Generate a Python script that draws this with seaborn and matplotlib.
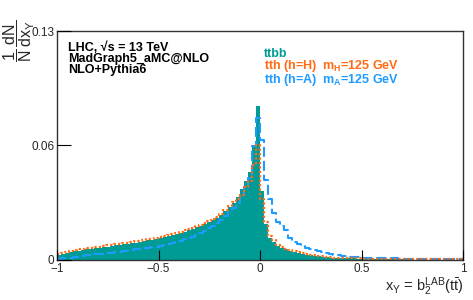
import numpy as np
import pandas as pd
import matplotlib
matplotlib.use("Agg")
import matplotlib.pyplot as plt
import seaborn as sns

# ---- data (fraction per bin, 100 bins from -1 to 1) ----
ttbb_left = [0.0025, 0.0033, 0.0038, 0.0042, 0.0046, 0.0049, 0.0052, 0.0055, 0.0058, 0.0061,
             0.0064, 0.0067, 0.0070, 0.0073, 0.0076, 0.0079, 0.0082, 0.0085, 0.0088, 0.0091,
             0.0094, 0.0098, 0.0102, 0.0106, 0.0110, 0.0114, 0.0119, 0.0124, 0.0129, 0.0135,
             0.0141, 0.0148, 0.0155, 0.0162, 0.0170, 0.0178, 0.0187, 0.0197, 0.0208, 0.0220,
             0.0235, 0.0255, 0.0278, 0.0300, 0.0330, 0.0370, 0.0410, 0.0460, 0.0600, 0.0803]
ttbb_right = [0.0360, 0.0190, 0.0115, 0.0095, 0.0075, 0.0063, 0.0055, 0.0048, 0.0042, 0.0037,
              0.0032, 0.0028, 0.0025, 0.0022, 0.0019, 0.0017, 0.0015, 0.0013, 0.0012, 0.0011,
              0.0010, 0.0009, 0.0008, 0.0008, 0.0007, 0.0006, 0.0006, 0.0005, 0.0005, 0.0005,
              0.0004, 0.0004, 0.0004, 0.0003, 0.0003, 0.0003, 0.0003, 0.0002, 0.0002, 0.0002,
              0.0002, 0.0002, 0.0002, 0.0002, 0.0002, 0.0002, 0.0002, 0.0002, 0.0002, 0.0002]

tthH_left = [0.0030, 0.0038, 0.0044, 0.0048, 0.0052, 0.0055, 0.0058, 0.0061, 0.0064, 0.0067,
             0.0070, 0.0073, 0.0076, 0.0079, 0.0082, 0.0085, 0.0088, 0.0091, 0.0094, 0.0097,
             0.0100, 0.0104, 0.0108, 0.0112, 0.0116, 0.0120, 0.0125, 0.0130, 0.0135, 0.0141,
             0.0147, 0.0154, 0.0161, 0.0168, 0.0176, 0.0184, 0.0193, 0.0203, 0.0214, 0.0226,
             0.0241, 0.0260, 0.0281, 0.0303, 0.0320, 0.0340, 0.0380, 0.0410, 0.0496, 0.0600]
tthH_right = [0.0320, 0.0200, 0.0125, 0.0104, 0.0078, 0.0066, 0.0058, 0.0051, 0.0045, 0.0040,
              0.0035, 0.0031, 0.0027, 0.0024, 0.0021, 0.0019, 0.0017, 0.0015, 0.0013, 0.0012,
              0.0011, 0.0010, 0.0009, 0.0008, 0.0008, 0.0007, 0.0007, 0.0006, 0.0006, 0.0005,
              0.0005, 0.0005, 0.0004, 0.0004, 0.0004, 0.0004, 0.0003, 0.0003, 0.0003, 0.0003,
              0.0003, 0.0003, 0.0003, 0.0003, 0.0003, 0.0003, 0.0003, 0.0003, 0.0003, 0.0003]

tthA_left = [0.0005, 0.0008, 0.0010, 0.0013, 0.0015, 0.0018, 0.0021, 0.0024, 0.0027, 0.0029,
             0.0031, 0.0033, 0.0035, 0.0037, 0.0040, 0.0043, 0.0046, 0.0049, 0.0052, 0.0055,
             0.0058, 0.0061, 0.0064, 0.0067, 0.0070, 0.0074, 0.0078, 0.0083, 0.0088, 0.0094,
             0.0100, 0.0107, 0.0114, 0.0122, 0.0131, 0.0141, 0.0152, 0.0165, 0.0180, 0.0195,
             0.0210, 0.0230, 0.0250, 0.0270, 0.0300, 0.0340, 0.0380, 0.0430, 0.0595, 0.0740]
tthA_right = [0.0626, 0.0420, 0.0320, 0.0245, 0.0200, 0.0175, 0.0157, 0.0115, 0.0096, 0.0085,
              0.0073, 0.0065, 0.0056, 0.0050, 0.0045, 0.0040, 0.0035, 0.0031, 0.0027, 0.0024,
              0.0021, 0.0019, 0.0017, 0.0015, 0.0014, 0.0013, 0.0012, 0.0011, 0.0010, 0.0010,
              0.0009, 0.0009, 0.0008, 0.0008, 0.0007, 0.0007, 0.0007, 0.0006, 0.0006, 0.0006,
              0.0006, 0.0005, 0.0005, 0.0005, 0.0005, 0.0005, 0.0005, 0.0005, 0.0005, 0.0005]

x_ticks = [-1, -0.5, 0, 0.5, 1]
x_ticklabels = ["\u22121", "\u22120.5", "0", "0.5", "1"]
y_ticks = [0, 0.06, 0.1195]
y_ticklabels = ["0", "0.06", "0.13"]
legend_labels = ["ttbb", "tth (h=H)  m$_{\\mathregular{H}}$=125 GeV",
                 "tth (h=A)  m$_{\\mathregular{A}}$=125 GeV"]
info_lines = ["LHC, \u221as = 13 TeV", "MadGraph5_aMC@NLO", "NLO+Pythia6"]

# ---- build table ----
nbins = 100
centers = -1 + (np.arange(nbins) + 0.5) * (2.0 / nbins)
df = pd.DataFrame({
    "x": centers,
    "ttbb": ttbb_left + ttbb_right,
    "tthH": tthH_left + tthH_right,
    "tthA": tthA_left + tthA_right,
})

teal = "#009B94"
orange = "#FF6A13"
blue = "#1E9BFF"

sns.set_style("ticks")
plt.rcParams["font.family"] = ["Liberation Sans", "DejaVu Sans"]
plt.rcParams["mathtext.fontset"] = "custom"
plt.rcParams["mathtext.rm"] = "Liberation Sans"
plt.rcParams["mathtext.it"] = "Liberation Sans"
plt.rcParams["mathtext.bf"] = "Liberation Sans:bold"

fig = plt.figure(figsize=(4.73, 3.0), dpi=100)
ax = fig.add_axes([57 / 473, 40 / 300, 406 / 473, 229 / 300])

hist_kw = dict(data=df, x="x", bins=nbins, binrange=(-1, 1), element="step", ax=ax)
sns.histplot(weights="ttbb", fill=True, color=teal, alpha=1.0, linewidth=0, **hist_kw)
sns.histplot(weights="tthA", fill=False, color=blue, linewidth=1.5,
             linestyle=(0, (4.8, 1.9)), **hist_kw)
sns.histplot(weights="tthH", fill=False, color=orange, linewidth=1.6,
             linestyle=(0, (1.0, 1.0)), **hist_kw)

ax.set_xlim(-1, 1)
ax.set_ylim(0, 0.1195)
ax.set_xlabel("")
ax.set_ylabel("")
ax.set_xticks(x_ticks)
ax.set_xticklabels(x_ticklabels)
ax.set_yticks(y_ticks)
ax.set_yticklabels(y_ticklabels)
ax.tick_params(axis="both", direction="in", labelsize=8.5, width=0.8, color="black", pad=2)
ax.tick_params(axis="x", length=7)
ax.tick_params(axis="y", length=10)
ax.set_axisbelow(False)
for s in ax.spines.values():
    s.set_visible(True)
    s.set_linewidth(1.0)
    s.set_color("#333333")
ax.tick_params(top=False, right=False)

# y label (rotated fraction)
fig.text(1 / 473, 1 - 19 / 300,
         r"$\dfrac{1}{\mathregular{N}}\,\dfrac{\mathregular{dN}}{\mathregular{dx_{Y}}}$",
         rotation=90, ha="left", va="top", fontsize=11.5)
# x label
fig.text(463 / 473, 1 - 287 / 300,
         r"x$_{\mathregular{Y}}$ = b$_{\mathregular{2}}^{\mathregular{LAB}}$(t$\mathregular{\bar{t}}$)",
         ha="right", va="center", fontsize=10.5)

# info text
for i, t in enumerate(info_lines):
    fig.text(68 / 473, 1 - (47.5 + 11.5 * i) / 300, t, ha="left", va="center",
             fontsize=9, fontweight="bold", color="black")

# legend as colored text
for i, (t, c, yy) in enumerate(zip(legend_labels, [teal, orange, blue], [54, 66, 80.5])):
    fig.text(264 / 473, 1 - yy / 300, t, ha="left", va="center",
             fontsize=9, fontweight="bold", color=c)

fig.savefig("out.png", dpi=100)
